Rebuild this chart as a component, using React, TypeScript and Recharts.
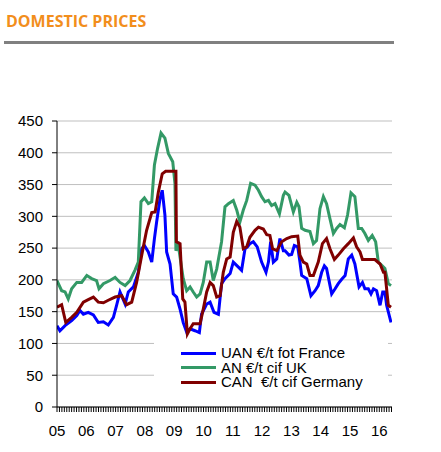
import React from "react";
import { LineChart, Line, XAxis, YAxis, CartesianGrid, Legend } from "recharts";

// x values are months since Jan 2005
const uanMonths = [0, 1.2, 3.3, 6.0, 8.1, 9.4, 10.8, 12.8, 14.9, 16.9, 19.0, 21.0, 23.1, 24.4, 25.8, 27.9, 29.2, 31.3, 33.3, 34.7, 35.8, 37.4, 38.8, 39.9, 40.8, 42.2, 43.1, 44.2, 44.9, 46.3, 47.6, 49.0, 50.4, 51.7, 53.1, 54.5, 56.5, 58.3, 59.2, 61.3, 62.7, 64.3, 66.1, 67.4, 68.8, 70.9, 72.2, 74.3, 75.6, 77.0, 78.0, 79.0, 80.4, 82.0, 83.8, 85.6, 86.6, 87.5, 88.6, 90.0, 91.3, 92.7, 93.4, 95.0, 96.1, 97.2, 98.6, 99.5, 100.2, 102.3, 104.0, 105.7, 107.0, 108.4, 109.5, 110.4, 112.5, 113.9, 115.2, 116.6, 118.0, 119.3, 120.7, 122.0, 123.7, 125.1, 126.1, 127.5, 128.6, 129.6, 130.9, 132.3, 133.4, 134.3, 135.0, 136.8];
const uanPrices = [128, 120, 128, 136, 144, 152, 146, 149, 145, 133, 134, 129, 141, 160, 181, 162, 181, 189, 212, 249, 254, 244, 228, 265, 291, 328, 341, 302, 244, 225, 178, 173, 154, 133, 118, 123, 120, 117, 146, 162, 165, 149, 146, 194, 202, 210, 228, 220, 215, 249, 252, 257, 260, 252, 228, 212, 228, 260, 228, 233, 265, 246, 246, 239, 240, 254, 252, 228, 207, 202, 175, 183, 191, 212, 222, 218, 178, 186, 194, 201, 207, 233, 239, 225, 189, 196, 186, 186, 178, 186, 183, 160, 181, 181, 160, 133];

const anMonths = [0, 1.9, 3.3, 4.6, 6.0, 8.1, 10.1, 12.2, 14.2, 16.2, 17.2, 19.0, 21.7, 23.8, 25.8, 27.9, 29.9, 31.9, 33.3, 34.4, 35.8, 37.4, 38.8, 39.9, 41.2, 42.6, 44.2, 45.6, 47.4, 48.3, 48.7, 49.7, 51.7, 53.1, 54.5, 55.8, 57.2, 58.6, 59.9, 61.3, 62.7, 64.0, 65.4, 67.4, 68.8, 70.2, 72.2, 73.6, 74.9, 76.3, 77.7, 79.3, 81.1, 82.5, 83.8, 85.2, 86.6, 87.9, 89.3, 91.1, 92.7, 93.4, 95.0, 96.8, 98.2, 99.1, 100.2, 101.6, 103.6, 105.0, 106.3, 107.7, 109.1, 110.4, 111.8, 113.2, 114.5, 115.9, 117.7, 119.0, 120.4, 122.0, 123.4, 124.8, 126.1, 127.5, 129.1, 130.5, 131.6, 133.0, 134.3, 135.7, 136.8];
const anPrices = [199, 183, 181, 170, 186, 196, 196, 207, 202, 199, 186, 194, 199, 204, 196, 191, 199, 215, 228, 323, 329, 320, 323, 381, 407, 431, 423, 399, 386, 352, 246, 254, 202, 183, 189, 181, 173, 178, 196, 228, 228, 199, 217, 260, 315, 320, 325, 310, 291, 310, 325, 352, 349, 341, 331, 323, 325, 317, 320, 304, 333, 338, 333, 307, 322, 315, 281, 278, 276, 257, 262, 312, 331, 320, 296, 273, 281, 287, 282, 302, 337, 331, 281, 281, 273, 262, 270, 260, 228, 223, 218, 194, 191];

const canMonths = [0, 1.9, 3.6, 6.0, 8.1, 10.8, 12.8, 14.9, 16.9, 19.0, 21.0, 23.8, 26.5, 28.5, 30.6, 32.6, 34.7, 36.7, 38.8, 40.2, 41.5, 43.1, 44.5, 48.7, 48.9, 50.4, 51.5, 52.4, 53.4, 54.5, 55.8, 58.6, 59.9, 61.3, 62.7, 64.0, 65.4, 66.8, 68.1, 69.5, 70.9, 72.2, 73.6, 74.9, 76.3, 77.7, 79.0, 81.1, 82.5, 84.5, 85.9, 87.2, 88.3, 90.0, 92.0, 94.1, 96.1, 98.6, 99.5, 100.9, 102.3, 103.6, 105.0, 107.0, 108.7, 110.4, 111.8, 113.6, 115.2, 117.3, 119.3, 121.4, 122.7, 124.1, 125.1, 130.2, 132.3, 133.7, 134.3, 135.7, 136.8];
const canPrices = [157, 161, 133, 141, 149, 165, 169, 173, 165, 164, 168, 173, 175, 161, 165, 196, 239, 278, 306, 307, 338, 367, 371, 371, 260, 257, 170, 165, 115, 123, 131, 131, 154, 181, 196, 191, 173, 175, 212, 233, 236, 275, 292, 283, 249, 252, 267, 278, 283, 280, 271, 270, 249, 246, 260, 265, 268, 269, 239, 228, 225, 207, 207, 228, 257, 265, 249, 232, 239, 249, 257, 266, 252, 244, 232, 232, 225, 212, 212, 160, 157];

const yearLabels = ["05", "06", "07", "08", "09", "10", "11", "12", "13", "14", "15", "16"];
const yTicks = [0, 50, 100, 150, 200, 250, 300, 350, 400, 450];
const monthTicks = Array.from({ length: 138 }, (_, i) => i);

const toPoints = (months: number[], values: number[]) =>
  months.map((m, i) => ({ m, v: values[i] }));

const series = [
  { name: "UAN €/t fot France", color: "#0000FF", data: toPoints(uanMonths, uanPrices) },
  { name: "AN €/t cif UK", color: "#339966", data: toPoints(anMonths, anPrices) },
  { name: "CAN  €/t cif Germany", color: "#800000", data: toPoints(canMonths, canPrices) },
];

const FONT = '"Liberation Sans", Arial, sans-serif';

// year label under every January, plain tick for other months
const MonthTick = ({ x, y, payload }: any) => {
  const m = payload.value;
  if (m % 12 !== 0) return null;
  return (
    <text x={x} y={y + 24} textAnchor="middle" fontSize={15} fontFamily={FONT} fill="#000">
      {yearLabels[m / 12]}
    </text>
  );
};

const LegendBox = () => (
  <div
    style={{
      background: "#fff",
      width: 234,
      height: 52,
      paddingTop: 7,
      paddingLeft: 27,
      boxSizing: "border-box",
      fontFamily: FONT,
      fontSize: 15,
      color: "#000",
    }}
  >
    {series.map((s) => (
      <div key={s.name} style={{ display: "flex", alignItems: "center", height: 14.5 }}>
        <div style={{ width: 35, height: 3, background: s.color, marginRight: 5 }} />
        <span style={{ display: "block", whiteSpace: "pre", height: 14, lineHeight: "14px", overflow: "visible" }}>
          {s.name}
        </span>
      </div>
    ))}
  </div>
);

export default function App() {
  return (
    <div style={{ position: "absolute", left: 0, top: 0, width: 441, height: 452, background: "#fff" }}>
      <div
        style={{
          position: "absolute",
          left: 6,
          top: 10,
          fontFamily: '"Open Sans", sans-serif',
          fontWeight: 700,
          fontSize: 16,
          lineHeight: "22px",
          color: "#F28E1C",
        }}
      >
        DOMESTIC PRICES
      </div>
      <div style={{ position: "absolute", left: 4, top: 41, width: 390, height: 3, background: "#808080" }} />
      <div style={{ position: "absolute", left: 0, top: 0 }}>
        <LineChart width={441} height={452} margin={{ top: 121, right: 49, bottom: 0, left: 0 }}>
          <CartesianGrid vertical={false} stroke="#BFBFBF" />
          <XAxis
            dataKey="m"
            type="number"
            domain={[0, 137.2]}
            ticks={monthTicks}
            interval={0}
            height={45}
            tickSize={5}
            tickMargin={0}
            tickLine={{ stroke: "#000" }}
            axisLine={{ stroke: "#000" }}
            tick={<MonthTick />}
            allowDataOverflow
          />
          <YAxis
            type="number"
            domain={[0, 450]}
            ticks={yTicks}
            interval={0}
            width={57}
            tickSize={5}
            tickMargin={9}
            tickLine={{ stroke: "#000" }}
            axisLine={{ stroke: "#000" }}
            tick={{ fontSize: 15, fontFamily: FONT, fill: "#000" }}
          />
          {series.map((s) => (
            <Line
              key={s.name}
              data={s.data}
              dataKey="v"
              name={s.name}
              type="linear"
              stroke={s.color}
              strokeWidth={3}
              dot={false}
              isAnimationActive={false}
            />
          ))}
          <Legend
            layout="vertical"
            align="center"
            verticalAlign="middle"
            content={() => <LegendBox />}
            wrapperStyle={{ left: 154, top: 339, width: 234, height: 52 }}
          />
        </LineChart>
      </div>
    </div>
  );
}
